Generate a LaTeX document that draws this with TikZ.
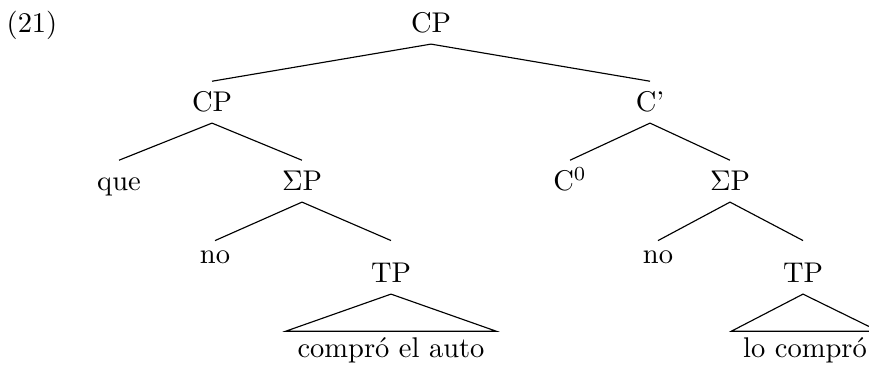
\documentclass[tikz,border=0pt]{standalone}
\begin{document}
\begin{tikzpicture}[x=0.3509pt,y=-0.3509pt,
  lbl/.style={anchor=base,inner xsep=0pt,inner ysep=3.7pt,text height=1.6ex,text depth=0pt},
  low/.style={lbl,text height=1ex},
  roof/.style={lbl,text height=11pt},
  yield/.style={anchor=base,inner xsep=4pt,inner ysep=2.2pt,text depth=0pt}]
\useasboundingbox (0,0) rectangle (869,365);
\node[anchor=base] (ex) at (32,33) {(21)};
% upper part of the tree
\node[lbl] (cp) at (431,33) {CP};
\node[lbl] (cpl) at (212,112) {CP};
\node[lbl] (cbar) at (650,112) {C'};
\node[lbl] (que) at (119,191) {que};
\node[lbl] (sigl) at (302,191) {$\Sigma$P};
\node[lbl] (czero) at (570,191) {C$^0$};
\node[lbl] (sigr) at (730,191) {$\Sigma$P};
% lower part
\node[low] (nol) at (215,264) {no};
\node[roof] (tpl) at (391,283) {TP};
\node[low] (nor) at (658,264) {no};
\node[roof] (tpr) at (803,283) {TP};
\node[yield] (yl) at (391,358) {compró el auto};
\node[yield] (yr) at (805,358) {lo compró};
\draw (cp.south) -- (cpl.north) (cp.south) -- (cbar.north);
\draw (cpl.south) -- (que.north) (cpl.south) -- (sigl.north);
\draw (cbar.south) -- (czero.north) (cbar.south) -- (sigr.north);
\draw (sigl.south) -- (nol.north) (sigl.south) -- (tpl.north);
\draw (sigr.south) -- (nor.north) (sigr.south) -- (tpr.north);
\draw (tpl.south) -- (yl.north west) -- (yl.north east) -- cycle;
\draw (tpr.south) -- (yr.north west) -- (yr.north east) -- cycle;
\end{tikzpicture}
\end{document}
